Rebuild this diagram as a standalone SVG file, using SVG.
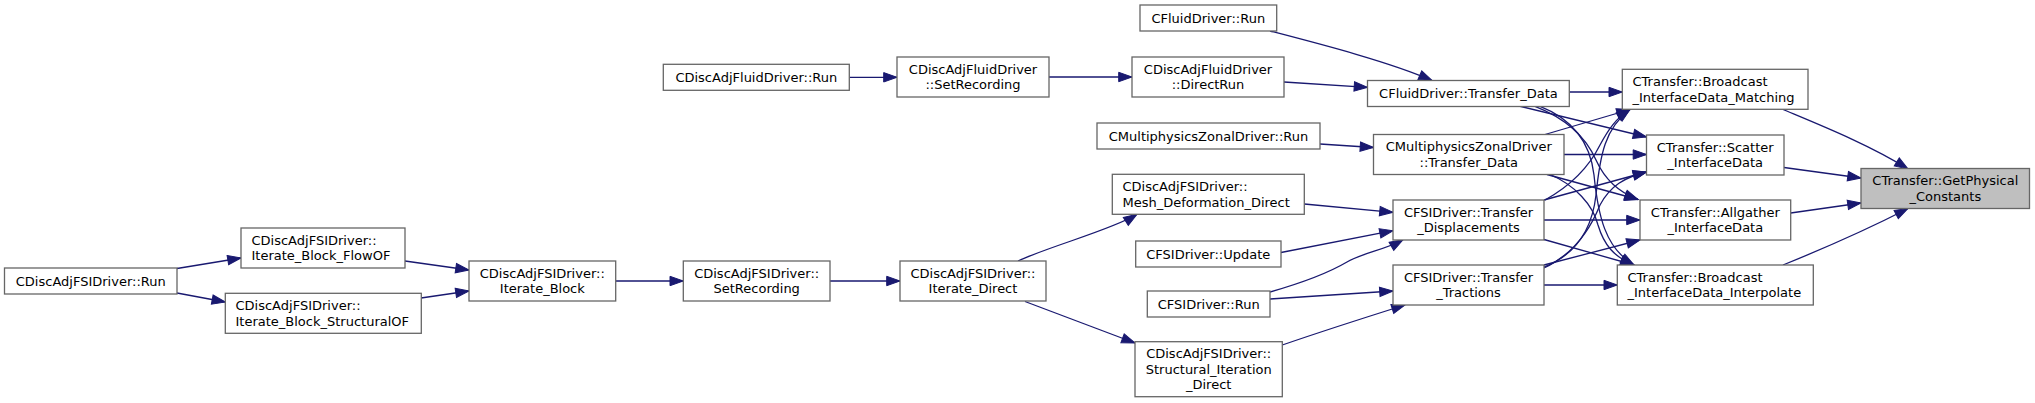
<svg xmlns="http://www.w3.org/2000/svg" width="2035" height="403" viewBox="0 0 2035 403">
<style>
.n rect{fill:#ffffff;stroke:#666666;stroke-width:1.3}
.n text{font-family:"DejaVu Sans",sans-serif;font-size:13px;fill:#000000}
.c{text-anchor:middle}
.hl rect{fill:#bfbfbf}
#edges path{fill:none;stroke:#191970;stroke-width:1.3;marker-end:url(#a)}
</style>
<defs>
<marker id="a" markerUnits="userSpaceOnUse" markerWidth="15" markerHeight="11" refX="13.3" refY="4.7" orient="auto" overflow="visible">
<path d="M0,0 L13.3,4.7 L0,9.4 Z" fill="#191970" stroke="#191970" stroke-width="1"/>
</marker>
</defs>
<rect width="2035" height="403" fill="#ffffff"/>
<g id="edges">
<path d="M177,268.5 L241,258"/>
<path d="M177,293 L225.3,302"/>
<path d="M405,261 L469,270"/>
<path d="M421,298 L469,291"/>
<path d="M616,281 L683.3,281"/>
<path d="M830,281 L900,281"/>
<path d="M1018,261 C1050,246 1113,229.5 1137,214.3"/>
<path d="M1025,301.5 L1135,343"/>
<path d="M849.3,77.3 L897,77.3"/>
<path d="M1049,77 L1132,77"/>
<path d="M1284,82 L1367.5,87.3"/>
<path d="M1270,31 C1320,44 1390,62 1432,80.5"/>
<path d="M1320,144 L1373.5,147.5"/>
<path d="M1304.3,204 L1393,212.3"/>
<path d="M1281,252.5 L1393,230.7"/>
<path d="M1270,292 C1305,282 1330,272 1347,262 C1362,253 1385,250 1403,239.8"/>
<path d="M1270,299 L1393,291"/>
<path d="M1282.3,345 C1320,332 1370,316 1405,305"/>
<path d="M1569.3,92 L1622.3,92"/>
<path d="M1520,106.3 L1646.5,137"/>
<path d="M1535,106.3 C1565,118 1585,135 1596,160 C1605,180 1618,192 1638,199.5"/>
<path d="M1540,106.3 C1570,118 1590,140 1594,175 C1598,215 1605,248 1634,265"/>
<path d="M1545,134.5 L1630,109.5"/>
<path d="M1564,154.5 L1646.5,154.5"/>
<path d="M1547,174.5 L1638,199.5"/>
<path d="M1550,174.5 C1575,185 1593,205 1598,225 C1604,245 1614,257 1634,265"/>
<path d="M1545,200 C1572,185 1590,165 1600,145 C1608,130 1616,118 1630,109.5"/>
<path d="M1544,200 L1646.5,172"/>
<path d="M1544,220 L1640,220"/>
<path d="M1544,239.5 L1634,265"/>
<path d="M1544,267 C1575,255 1592,230 1596,195 C1600,155 1605,128 1630,109.5"/>
<path d="M1544,268 C1572,255 1590,230 1600,205 C1610,186 1625,177 1646.5,172"/>
<path d="M1544,265 L1640,240"/>
<path d="M1544,285 L1617.3,285"/>
<path d="M1783,109.5 C1820,125 1870,145 1908,169"/>
<path d="M1784,167.5 L1861,178"/>
<path d="M1790.7,213 L1861,203"/>
<path d="M1783,265 C1820,250 1870,228 1908,208.5"/>
</g>
<g id="n_fsi_run" class="n"><rect x="4.5" y="268" width="172.5" height="26"/><text class="c" x="90.75" y="285.5">CDiscAdjFSIDriver::Run</text></g>
<g id="n_flowof" class="n"><rect x="241" y="228" width="164" height="40"/><text x="251.5" y="244.7">CDiscAdjFSIDriver::</text><text x="251.5" y="260.3">Iterate_Block_FlowOF</text></g>
<g id="n_structof" class="n"><rect x="225.3" y="293.3" width="196" height="40"/><text x="235.5" y="310">CDiscAdjFSIDriver::</text><text x="235.5" y="325.6">Iterate_Block_StructuralOF</text></g>
<g id="n_iterate_block" class="n"><rect x="469" y="261" width="146.7" height="40"/><text class="c" x="542.3" y="277.7">CDiscAdjFSIDriver::</text><text class="c" x="542.3" y="293.3">Iterate_Block</text></g>
<g id="n_fsi_setrec" class="n"><rect x="683.3" y="261" width="146.7" height="40"/><text class="c" x="756.7" y="277.7">CDiscAdjFSIDriver::</text><text class="c" x="756.7" y="293.3">SetRecording</text></g>
<g id="n_iterate_direct" class="n"><rect x="900" y="261" width="146" height="40"/><text class="c" x="973" y="277.7">CDiscAdjFSIDriver::</text><text class="c" x="973" y="293.3">Iterate_Direct</text></g>
<g id="n_fluid_run" class="n"><rect x="663.3" y="64.3" width="186" height="26"/><text class="c" x="756.3" y="81.8">CDiscAdjFluidDriver::Run</text></g>
<g id="n_fluid_setrec" class="n"><rect x="897" y="57" width="152" height="40"/><text class="c" x="973" y="73.7">CDiscAdjFluidDriver</text><text class="c" x="973" y="89.3">::SetRecording</text></g>
<g id="n_cfluid_run" class="n"><rect x="1140" y="5" width="136.7" height="26"/><text class="c" x="1208.3" y="22.5">CFluidDriver::Run</text></g>
<g id="n_directrun" class="n"><rect x="1132" y="57" width="152" height="40"/><text class="c" x="1208" y="73.7">CDiscAdjFluidDriver</text><text class="c" x="1208" y="89.3">::DirectRun</text></g>
<g id="n_mzd_run" class="n"><rect x="1097" y="123" width="223" height="26"/><text class="c" x="1208.5" y="140.5">CMultiphysicsZonalDriver::Run</text></g>
<g id="n_mesh" class="n"><rect x="1112.3" y="174.3" width="192" height="40"/><text x="1122.5" y="191">CDiscAdjFSIDriver::</text><text x="1122.5" y="206.6">Mesh_Deformation_Direct</text></g>
<g id="n_update" class="n"><rect x="1135.7" y="241" width="145.3" height="26"/><text class="c" x="1208.3" y="258.5">CFSIDriver::Update</text></g>
<g id="n_cfsi_run" class="n"><rect x="1147.3" y="291" width="122.7" height="26"/><text class="c" x="1208.7" y="308.5">CFSIDriver::Run</text></g>
<g id="n_structural_iter" class="n"><rect x="1135" y="341.7" width="147.3" height="55"/><text class="c" x="1208.7" y="358.2">CDiscAdjFSIDriver::</text><text class="c" x="1208.7" y="373.7">Structural_Iteration</text><text class="c" x="1208.7" y="389.3">_Direct</text></g>
<g id="n_td" class="n"><rect x="1367.5" y="80.5" width="201.8" height="26"/><text class="c" x="1468.4" y="97.9">CFluidDriver::Transfer_Data</text></g>
<g id="n_mzd_td" class="n"><rect x="1373.5" y="134.5" width="190.5" height="40"/><text class="c" x="1468.8" y="151.2">CMultiphysicsZonalDriver</text><text class="c" x="1468.8" y="166.8">::Transfer_Data</text></g>
<g id="n_disp" class="n"><rect x="1393" y="200" width="151" height="40"/><text class="c" x="1468.5" y="216.7">CFSIDriver::Transfer</text><text class="c" x="1468.5" y="232.3">_Displacements</text></g>
<g id="n_tract" class="n"><rect x="1393" y="265" width="151" height="40"/><text class="c" x="1468.5" y="281.7">CFSIDriver::Transfer</text><text class="c" x="1468.5" y="297.3">_Tractions</text></g>
<g id="n_matching" class="n"><rect x="1622.3" y="69.3" width="185.7" height="40"/><text x="1632.5" y="86">CTransfer::Broadcast</text><text x="1632.5" y="101.6">_InterfaceData_Matching</text></g>
<g id="n_scatter" class="n"><rect x="1646.5" y="135" width="137.5" height="40"/><text class="c" x="1715.2" y="151.7">CTransfer::Scatter</text><text class="c" x="1715.2" y="167.3">_InterfaceData</text></g>
<g id="n_allgather" class="n"><rect x="1640" y="200" width="150.7" height="40"/><text class="c" x="1715.3" y="216.7">CTransfer::Allgather</text><text class="c" x="1715.3" y="232.3">_InterfaceData</text></g>
<g id="n_interp" class="n"><rect x="1617.3" y="265" width="196" height="40"/><text x="1627.5" y="281.7">CTransfer::Broadcast</text><text x="1627.5" y="297.3">_InterfaceData_Interpolate</text></g>
<g id="n_getphys" class="n hl"><rect x="1861" y="168.5" width="168.5" height="40"/><text class="c" x="1945.3" y="185.2">CTransfer::GetPhysical</text><text class="c" x="1945.3" y="200.8">_Constants</text></g>
</svg>
